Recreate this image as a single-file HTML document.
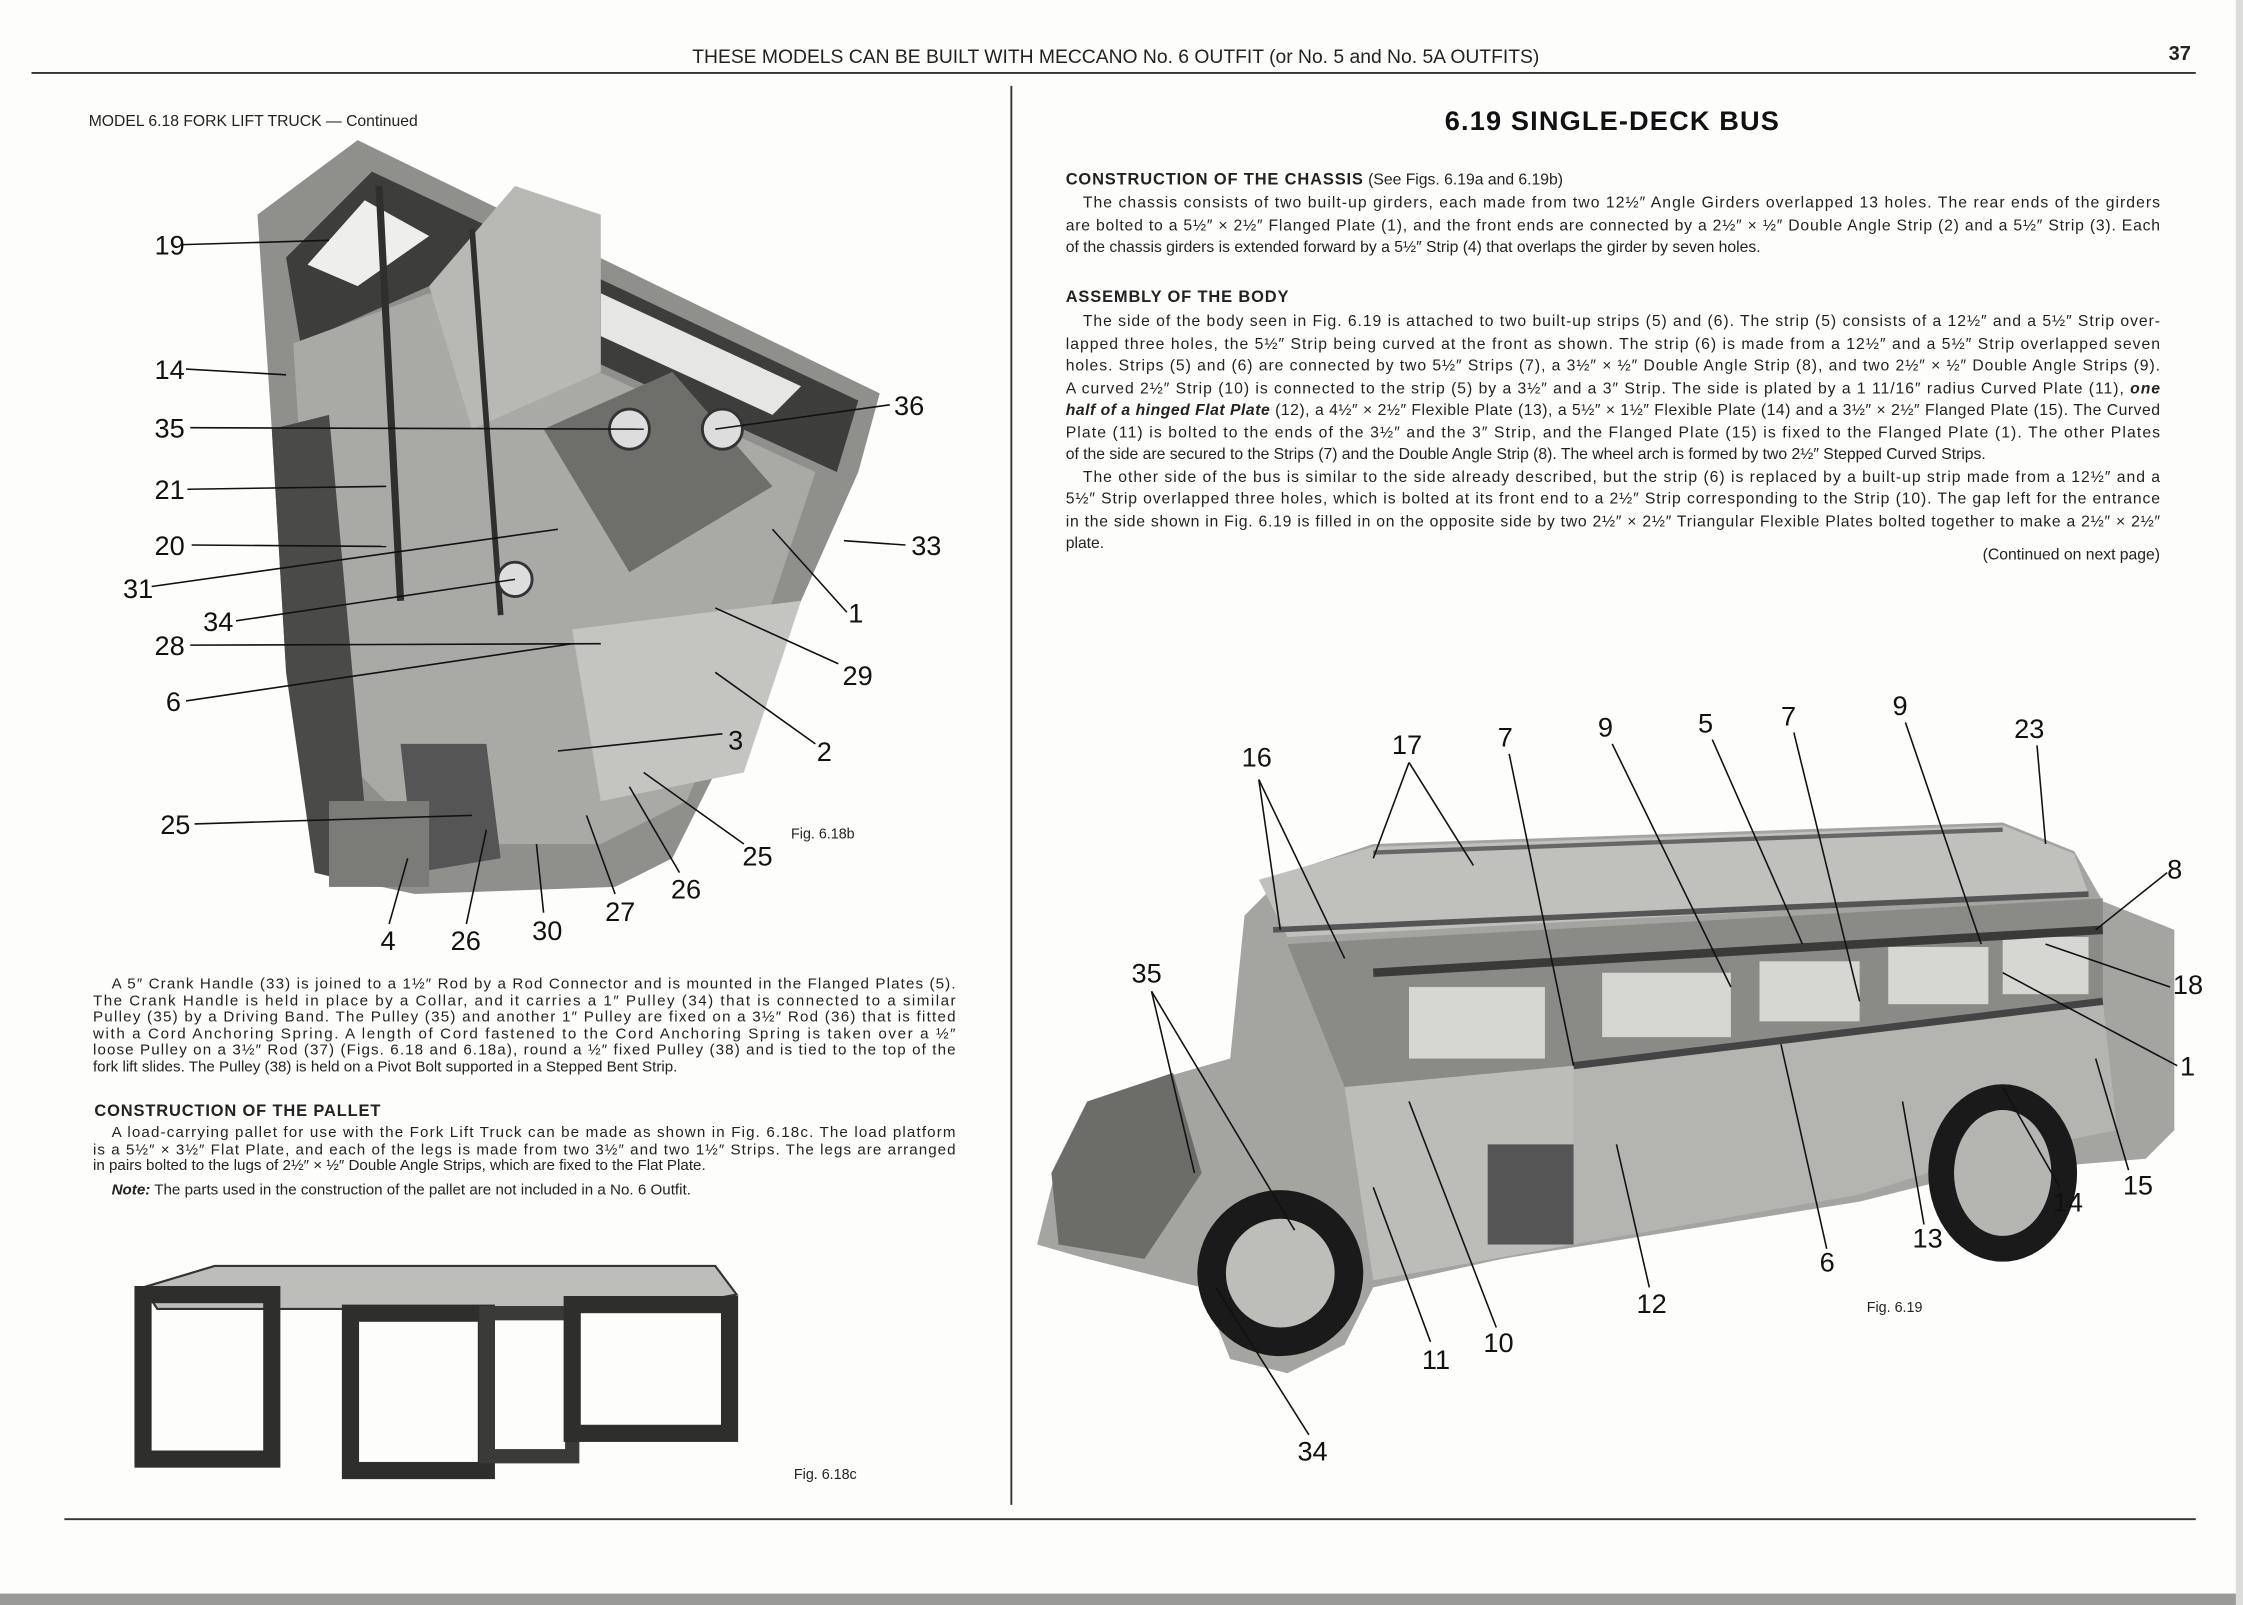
<!DOCTYPE html>
<html><head><meta charset="utf-8"><style>
html,body{margin:0;padding:0;background:#fdfdfc;}
svg{display:block;font-family:"Liberation Sans",sans-serif;}
</style></head><body>
<svg width="2243" height="1605" viewBox="0 0 1568 1122" xmlns="http://www.w3.org/2000/svg">
<rect width="1568" height="1122" fill="#fdfdfc"/>
<rect x="0" y="1114" width="1568" height="8" fill="#9a9a98"/>
<rect x="1563" y="0" width="5" height="1122" fill="#dcdcda"/>
<!-- header -->
<text x="780" y="44" font-size="13.5" text-anchor="middle" fill="#222">THESE MODELS CAN BE BUILT WITH MECCANO No. 6 OUTFIT (or No. 5 and No. 5A OUTFITS)</text>
<text x="1516" y="42" font-size="14" font-weight="bold" fill="#222">37</text>
<line x1="22" y1="51" x2="1535" y2="51" stroke="#333" stroke-width="1.3"/>
<line x1="707" y1="60" x2="707" y2="1052" stroke="#333" stroke-width="1.3"/>
<line x1="45" y1="1062" x2="1535" y2="1062" stroke="#333" stroke-width="1.3"/>

<text x="62" y="88" font-size="11" fill="#222">MODEL 6.18  FORK LIFT TRUCK — Continued</text>

<!-- forklift graphic -->
<g>
<polygon points="180,150 250,98 615,275 600,330 560,420 470,600 430,620 290,625 220,610 200,470 190,300" fill="#8f8f8c"/>
<polygon points="200,180 260,120 600,280 585,330 300,200 210,240" fill="#3d3d3b"/>
<polygon points="215,185 255,140 300,165 250,200" fill="#eeeeec"/>
<polygon points="420,205 560,270 540,290 420,235" fill="#e6e6e4"/>
<polygon points="205,240 300,205 570,330 540,420 480,560 420,590 300,590 230,520 215,400" fill="#a9a9a6"/>
<polygon points="190,300 230,290 260,620 220,610 200,470" fill="#4a4a48"/>
<polygon points="300,200 360,130 420,150 420,260 330,300" fill="#b8b8b4"/>
<polygon points="400,440 560,420 520,540 420,560" fill="#c4c4c0"/>
<polygon points="280,520 340,520 350,600 290,610" fill="#555"/>
<polygon points="380,300 470,260 540,340 440,400" fill="#6e6e6b"/>
<line x1="265" y1="130" x2="280" y2="420" stroke="#2f2f2d" stroke-width="5"/>
<line x1="330" y1="160" x2="350" y2="430" stroke="#2f2f2d" stroke-width="4"/>
<circle cx="440" cy="300" r="14" fill="#ddd" stroke="#333" stroke-width="2"/>
<circle cx="505" cy="300" r="14" fill="#ddd" stroke="#333" stroke-width="2"/>
<circle cx="360" cy="405" r="12" fill="#ddd" stroke="#333" stroke-width="2"/>
<rect x="230" y="560" width="70" height="60" fill="#7b7b78"/>
</g>
<g font-size="19" fill="#111">
<text x="108" y="178">19</text><text x="108" y="265">14</text><text x="108" y="306">35</text>
<text x="108" y="349">21</text><text x="108" y="388">20</text><text x="86" y="418">31</text>
<text x="142" y="441">34</text><text x="108" y="458">28</text><text x="116" y="497">6</text>
<text x="112" y="583">25</text><text x="266" y="664">4</text><text x="315" y="664">26</text>
<text x="372" y="657">30</text><text x="423" y="644">27</text><text x="469" y="628">26</text>
<text x="519" y="605">25</text><text x="509" y="524">3</text><text x="571" y="532">2</text>
<text x="589" y="479">29</text><text x="593" y="435">1</text><text x="637" y="388">33</text>
<text x="625" y="290">36</text>
</g>
<g stroke="#111" stroke-width="1.1">
<line x1="128" y1="171" x2="230" y2="168"/><line x1="130" y1="258" x2="200" y2="262"/>
<line x1="133" y1="299" x2="450" y2="300"/><line x1="131" y1="342" x2="270" y2="340"/>
<line x1="134" y1="381" x2="270" y2="382"/><line x1="106" y1="410" x2="390" y2="370"/>
<line x1="165" y1="434" x2="360" y2="405"/><line x1="133" y1="451" x2="420" y2="450"/>
<line x1="130" y1="490" x2="400" y2="450"/><line x1="136" y1="576" x2="330" y2="570"/>
<line x1="272" y1="646" x2="285" y2="600"/><line x1="326" y1="646" x2="340" y2="580"/>
<line x1="380" y1="638" x2="375" y2="590"/><line x1="430" y1="625" x2="410" y2="570"/>
<line x1="475" y1="610" x2="440" y2="550"/><line x1="520" y1="590" x2="450" y2="540"/>
<line x1="505" y1="513" x2="390" y2="525"/><line x1="570" y1="520" x2="500" y2="470"/>
<line x1="586" y1="464" x2="500" y2="425"/><line x1="592" y1="428" x2="540" y2="370"/>
<line x1="633" y1="381" x2="590" y2="378"/><line x1="622" y1="283" x2="500" y2="300"/>
</g>
<text x="553" y="586" font-size="10" fill="#222">Fig. 6.18b</text>

<!-- left paragraph -->
<g font-size="10.6" fill="#222">
<text x="78" y="691" textLength="590" lengthAdjust="spacing">A 5″ Crank Handle (33) is joined to a 1½″ Rod by a Rod Connector and is mounted in the Flanged Plates (5).</text>
<text x="65" y="703" textLength="603" lengthAdjust="spacing">The Crank Handle is held in place by a Collar, and it carries a 1″ Pulley (34) that is connected to a similar</text>
<text x="65" y="714" textLength="603" lengthAdjust="spacing">Pulley (35) by a Driving Band. The Pulley (35) and another 1″ Pulley are fixed on a 3½″ Rod (36) that is fitted</text>
<text x="65" y="726" textLength="603" lengthAdjust="spacing">with a Cord Anchoring Spring. A length of Cord fastened to the Cord Anchoring Spring is taken over a ½″</text>
<text x="65" y="737" textLength="603" lengthAdjust="spacing">loose Pulley on a 3½″ Rod (37) (Figs. 6.18 and 6.18a), round a ½″ fixed Pulley (38) and is tied to the top of the</text>
<text x="65" y="749">fork lift slides. The Pulley (38) is held on a Pivot Bolt supported in a Stepped Bent Strip.</text>
<text x="66" y="780" font-size="11.5" font-weight="bold" letter-spacing="0.6">CONSTRUCTION OF THE PALLET</text>
<text x="78" y="795" textLength="590" lengthAdjust="spacing">A load-carrying pallet for use with the Fork Lift Truck can be made as shown in Fig. 6.18c. The load platform</text>
<text x="65" y="807" textLength="603" lengthAdjust="spacing">is a 5½″ × 3½″ Flat Plate, and each of the legs is made from two 3½″ and two 1½″ Strips. The legs are arranged</text>
<text x="65" y="818">in pairs bolted to the lugs of 2½″ × ½″ Double Angle Strips, which are fixed to the Flat Plate.</text>
<text x="78" y="835"><tspan font-style="italic" font-weight="bold">Note:</tspan> The parts used in the construction of the pallet are not included in a No. 6 Outfit.</text>
</g>

<!-- pallet -->
<g>
<polygon points="100,900 150,885 500,885 515,905 460,915 110,915" fill="#bdbdb9" stroke="#333" stroke-width="1.5"/>
<rect x="100" y="905" width="90" height="115" fill="none" stroke="#2e2e2c" stroke-width="12"/>
<rect x="245" y="918" width="95" height="110" fill="none" stroke="#2e2e2c" stroke-width="12"/>
<rect x="340" y="918" width="60" height="100" fill="none" stroke="#3a3a38" stroke-width="10"/>
<rect x="400" y="912" width="110" height="90" fill="none" stroke="#2e2e2c" stroke-width="12"/>
</g>
<text x="555" y="1034" font-size="10" fill="#222">Fig. 6.18c</text>

<!-- right page -->
<text x="1010" y="91" font-size="19" font-weight="bold" fill="#111" letter-spacing="0.8">6.19  SINGLE-DECK BUS</text>
<g font-size="11" fill="#222">
<text x="745" y="129"><tspan font-size="11.5" font-weight="bold" letter-spacing="0.6">CONSTRUCTION OF THE CHASSIS</tspan>   (See Figs. 6.19a and 6.19b)</text>
<text x="757" y="145" textLength="753" lengthAdjust="spacing">The chassis consists of two built-up girders, each made from two 12½″ Angle Girders overlapped 13 holes. The rear ends of the girders</text>
<text x="745" y="161" textLength="765" lengthAdjust="spacing">are bolted to a 5½″ × 2½″ Flanged Plate (1), and the front ends are connected by a 2½″ × ½″ Double Angle Strip (2) and a 5½″ Strip (3). Each</text>
<text x="745" y="176">of the chassis girders is extended forward by a 5½″ Strip (4) that overlaps the girder by seven holes.</text>
<text x="745" y="211" font-size="11.5" font-weight="bold" letter-spacing="0.6">ASSEMBLY OF THE BODY</text>
<text x="757" y="228" textLength="753" lengthAdjust="spacing">The side of the body seen in Fig. 6.19 is attached to two built-up strips (5) and (6). The strip (5) consists of a 12½″ and a 5½″ Strip over-</text>
<text x="745" y="244" textLength="765" lengthAdjust="spacing">lapped three holes, the 5½″ Strip being curved at the front as shown. The strip (6) is made from a 12½″ and a 5½″ Strip overlapped seven</text>
<text x="745" y="259" textLength="765" lengthAdjust="spacing">holes. Strips (5) and (6) are connected by two 5½″ Strips (7), a 3½″ × ½″ Double Angle Strip (8), and two 2½″ × ½″ Double Angle Strips (9).</text>
<text x="745" y="275" textLength="765" lengthAdjust="spacing">A curved 2½″ Strip (10) is connected to the strip (5) by a 3½″ and a 3″ Strip.  The side is plated by a 1 11/16″ radius Curved Plate (11), <tspan font-style="italic" font-weight="bold">one</tspan></text>
<text x="745" y="290" textLength="765" lengthAdjust="spacing"><tspan font-style="italic" font-weight="bold">half of a hinged Flat Plate</tspan> (12), a 4½″ × 2½″ Flexible Plate (13), a 5½″ × 1½″ Flexible Plate (14) and a 3½″ × 2½″ Flanged Plate (15).  The Curved</text>
<text x="745" y="306" textLength="765" lengthAdjust="spacing">Plate (11) is bolted to the ends of the 3½″ and the 3″ Strip, and the Flanged Plate (15) is fixed to the Flanged Plate (1). The other Plates</text>
<text x="745" y="321">of the side are secured to the Strips (7) and the Double Angle Strip (8). The wheel arch is formed by two 2½″ Stepped Curved Strips.</text>
<text x="757" y="337" textLength="753" lengthAdjust="spacing">The other side of the bus is similar to the side already described, but the strip (6) is replaced by a built-up strip made from a 12½″ and a</text>
<text x="745" y="352" textLength="765" lengthAdjust="spacing">5½″ Strip overlapped three holes, which is bolted at its front end to a 2½″ Strip corresponding to the Strip (10). The gap left for the entrance</text>
<text x="745" y="368" textLength="765" lengthAdjust="spacing">in the side shown in Fig. 6.19 is filled in on the opposite side by two 2½″ × 2½″ Triangular Flexible Plates bolted together to make a 2½″ × 2½″</text>
<text x="745" y="383">plate.</text>
<text x="1510" y="391" text-anchor="end">(Continued on next page)</text>
</g>

<!-- bus -->
<g>
<polygon points="725,870 740,810 790,760 860,740 870,640 900,610 960,590 1400,575 1450,595 1470,630 1520,650 1520,790 1500,810 1380,820 1300,840 1050,880 960,900 940,940 900,960 860,950 840,900 760,880" fill="#a4a4a0"/>
<polygon points="880,615 960,592 1400,577 1450,597 1460,625 900,655" fill="#c0c0bc"/>
<line x1="890" y1="650" x2="1460" y2="625" stroke="#555" stroke-width="4"/>
<line x1="960" y1="596" x2="1400" y2="580" stroke="#666" stroke-width="3"/>
<polygon points="900,660 1470,628 1470,700 1100,745 940,760" fill="#8a8a87"/>
<g fill="#d6d6d2">
<rect x="985" y="690" width="95" height="50"/>
<rect x="1120" y="680" width="90" height="45"/>
<rect x="1230" y="672" width="70" height="42"/>
<rect x="1320" y="662" width="70" height="40"/>
<rect x="1400" y="655" width="60" height="40"/>
</g>
<polygon points="1100,745 1470,700 1480,790 1380,810 1300,835 1100,870" fill="#b4b4b0"/>
<polygon points="940,760 1100,745 1100,870 960,895" fill="#bcbcb8"/>
<rect x="1040" y="800" width="60" height="70" fill="#555"/>
<polygon points="760,770 820,750 840,820 800,880 740,870 735,820" fill="#6c6c69"/>
<line x1="960" y1="680" x2="1470" y2="650" stroke="#3a3a38" stroke-width="6"/>
<line x1="1100" y1="745" x2="1470" y2="700" stroke="#444" stroke-width="5"/>
<circle cx="895" cy="890" r="58" fill="#1a1a1a"/>
<circle cx="895" cy="890" r="38" fill="#bdbdb9"/>
<ellipse cx="1400" cy="820" rx="52" ry="62" fill="#1a1a1a"/>
<ellipse cx="1400" cy="820" rx="34" ry="44" fill="#b5b5b1"/>
</g>
<g font-size="19" fill="#111">
<text x="868" y="536">16</text><text x="973" y="527">17</text><text x="1047" y="522">7</text>
<text x="1117" y="515">9</text><text x="1187" y="512">5</text><text x="1245" y="507">7</text>
<text x="1323" y="500">9</text><text x="1408" y="516">23</text><text x="1515" y="614">8</text>
<text x="1519" y="695">18</text><text x="1524" y="752">1</text><text x="1484" y="835">15</text>
<text x="1435" y="847">14</text><text x="1337" y="872">13</text><text x="1272" y="889">6</text>
<text x="1144" y="918">12</text><text x="1037" y="945">10</text><text x="994" y="957">11</text>
<text x="907" y="1021">34</text><text x="791" y="687">35</text>
</g>
<g stroke="#111" stroke-width="1.1">
<line x1="880" y1="545" x2="895" y2="650"/><line x1="880" y1="545" x2="940" y2="670"/>
<line x1="985" y1="533" x2="960" y2="600"/><line x1="985" y1="533" x2="1030" y2="605"/>
<line x1="1055" y1="527" x2="1100" y2="745"/><line x1="1127" y1="520" x2="1210" y2="690"/>
<line x1="1197" y1="517" x2="1260" y2="660"/><line x1="1254" y1="512" x2="1300" y2="700"/>
<line x1="1332" y1="505" x2="1385" y2="660"/><line x1="1424" y1="521" x2="1430" y2="590"/>
<line x1="1515" y1="610" x2="1465" y2="650"/><line x1="1517" y1="690" x2="1430" y2="660"/>
<line x1="1522" y1="745" x2="1400" y2="680"/><line x1="1488" y1="818" x2="1465" y2="740"/>
<line x1="1440" y1="830" x2="1400" y2="760"/><line x1="1345" y1="856" x2="1330" y2="770"/>
<line x1="1277" y1="873" x2="1245" y2="730"/><line x1="1153" y1="900" x2="1130" y2="800"/>
<line x1="1046" y1="928" x2="985" y2="770"/><line x1="1000" y1="938" x2="960" y2="830"/>
<line x1="915" y1="1003" x2="850" y2="900"/><line x1="805" y1="693" x2="835" y2="820"/>
<line x1="805" y1="693" x2="905" y2="860"/>
</g>
<text x="1305" y="917" font-size="10" fill="#222">Fig. 6.19</text>
</svg>
</body></html>
